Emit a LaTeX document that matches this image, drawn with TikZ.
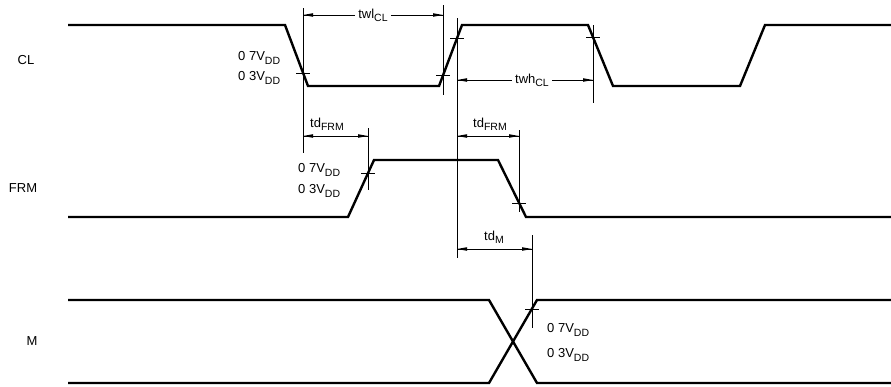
\documentclass[tikz,border=0pt]{standalone}
\usepackage{fontspec}
\setmainfont{Liberation Sans}
\usetikzlibrary{positioning}
\usetikzlibrary{calc}

\newcommand{\sublbl}[1]{\raisebox{-0.45ex}{\fontsize{10.5}{11}\selectfont #1}}

\begin{document}
\begin{tikzpicture}
[x=1pt,y=1pt,
 font=\fontsize{13}{15}\selectfont,
 wave/.style={line width=2.4pt,line join=miter},
 guide/.style={line width=0.8pt},
 dimline/.style={guide},
 tipfill/.style={fill=black},
 tick/.style={guide},
 lbl/.style={inner sep=0pt},
 volt/.style={inner sep=0pt,anchor=west}]

\useasboundingbox (0,0) rectangle (891,-386);

% signal names
\node (nCL) [lbl] at (26,-60) {CL};
\node (nFRM) [lbl] at (23,-188) {FRM};
\node (nM) [lbl] at (32,-341) {M};

% waveforms
\draw [wave] (68,-25) -- (285,-25) -- (308,-86) -- (439,-86) -- (462,-25)
	-- (588,-25) -- (613,-86) -- (740,-86) -- (765,-25) -- (891,-25);
\draw [wave] (68,-217) -- (348,-217) -- (374,-160) -- (498,-160) -- (526,-217)
	-- (891,-217);
\draw [wave] (68,-300) -- (489,-300) -- (537,-383) -- (891,-383);
\draw [wave] (68,-383) -- (489,-383) -- (537,-300) -- (891,-300);

% threshold points
\coordinate (c1) at (303,-73);
\coordinate (c2) at (443,-75);
\coordinate (c3) at (457,-38);
\coordinate (c4) at (593,-37);
\coordinate (f1) at (368,-173);
\coordinate (f2) at (519,-203);
\coordinate (m1) at (532,-309);

\foreach \p in {c1,c2,c3,c4,f1,f2,m1}
	\draw [tick] (\p) ++(-7,0) -- ++(14,0);

% extension lines
\draw [guide] (303,-8) -- (303,-153);
\draw [guide] (443,-5) -- (443,-95);
\draw [guide] (457,-18) -- (457,-258);
\draw [guide] (593,-25) -- (593,-103);
\draw [guide] (368,-128) -- (368,-190);
\draw [guide] (519,-130) -- (519,-212);
\draw [guide] (532,-235) -- (532,-328);

% twl
\node (twl) [lbl] at (373,-15) {twl\sublbl{CL}};
\coordinate (twlA) at (303,-15);
\coordinate (twlB) at (443,-15);
\draw [dimline] ([xshift=-3pt]twl.west) -- (twlA);
\draw [dimline] ([xshift=3pt]twl.east) -- (twlB);

% twh
\node (twh) [lbl] at (532,-80) {twh\sublbl{CL}};
\coordinate (twhA) at (457,-80);
\coordinate (twhB) at (593,-80);
\draw [dimline] ([xshift=-3pt]twh.west) -- (twhA);
\draw [dimline] ([xshift=3pt]twh.east) -- (twhB);

% td FRM (rise)
\coordinate (tdaA) at (303,-136);
\coordinate (tdaB) at (368,-136);
\node (tda) [lbl] at (327,-124) {td\sublbl{FRM}};
\draw [dimline] (tdaA) -- (tdaB);

% td FRM (fall)
\coordinate (tdbA) at (457,-136);
\coordinate (tdbB) at (519,-136);
\node (tdb) [lbl] at (490,-124) {td\sublbl{FRM}};
\draw [dimline] (tdbA) -- (tdbB);

% td M
\coordinate (tdmA) at (457,-249);
\coordinate (tdmB) at (532,-249);
\node (tdm) [lbl] at (494,-237) {td\sublbl{M}};
\draw [dimline] (tdmA) -- (tdmB);

% arrow heads
\foreach \e/\d in {twlA/1,twlB/-1,twhA/1,twhB/-1,tdaA/1,tdaB/-1,
		tdbA/1,tdbB/-1,tdmA/1,tdmB/-1}
	\fill [tipfill] (\e) -- ++(\d*10,1.8) -- ++(0,-3.6) -- cycle;

% threshold levels
\node (vc7) [volt] at (238,-58) {0 7V\sublbl{DD}};
\node (vc3) [volt] at (238,-78) {0 3V\sublbl{DD}};
\node (vf7) [volt] at (298,-170) {0 7V\sublbl{DD}};
\node (vf3) [volt] at (298,-191) {0 3V\sublbl{DD}};
\node (vm7) [volt] at (547,-330) {0 7V\sublbl{DD}};
\node (vm3) [volt] at (547,-355) {0 3V\sublbl{DD}};
\end{tikzpicture}
\end{document}
